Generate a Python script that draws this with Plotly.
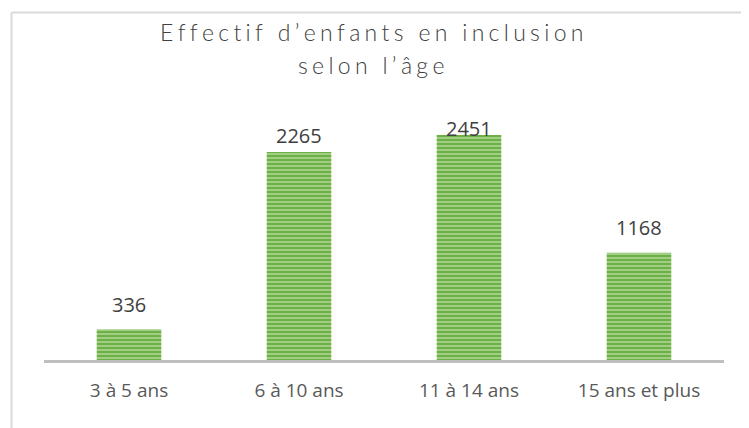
import plotly.graph_objects as go

categories = ["3 à 5 ans", "6 à 10 ans", "11 à 14 ans", "15 ans et plus"]
values = [336, 2265, 2451, 1168]
title_lines = ["Effectif d’enfants en inclusion", "selon l’âge"]

# pixel offsets of the value labels above the bar tops (as placed in the original)
label_shift = [9, 1, -9, 10]

def spaced(s):
    return "\u2009\u200a".join(list(s))

OFF = 8  # page body margin
W, H = 749 - OFF, 428 - OFF
L, R, T, B = 44 - OFF, 25, 100 - OFF, 68
pw, ph = W - L - R, H - T - B
ymax = 2832

fig = go.Figure()
fig.add_trace(go.Bar(
    x=categories, y=values, width=0.38,
    marker=dict(color="#74B84A", line=dict(width=0),
                pattern=dict(shape="-", fgcolor="#f2f9ec", bgcolor="#6DB043", size=4, solidity=0.4)),
    hoverinfo="skip",
))
for c, v, s in zip(categories, values, label_shift):
    fig.add_annotation(x=c, y=v, text=str(v), showarrow=False, yanchor="bottom", yshift=s,
                       font=dict(family="Open Sans, Liberation Sans", size=20, color="#404040"))

def px_x(p):
    return (p - OFF - L) / pw
def px_y(p):
    return (H + OFF - B - p) / ph

for line, yc in zip(title_lines, [32, 65]):
    fig.add_annotation(xref="paper", yref="paper", x=px_x(371), y=px_y(yc), xanchor="center", yanchor="middle",
                       text=spaced(line), showarrow=False,
                       font=dict(family="Lato", size=23, color="#404040", weight=300))

fig.add_shape(type="line", xref="paper", yref="paper", x0=px_x(11.5), x1=px_x(760), y0=px_y(12.5), y1=px_y(12.5),
              line=dict(color="#D9D9D9", width=2))
fig.add_shape(type="line", xref="paper", yref="paper", x0=px_x(11.5), x1=px_x(11.5), y0=px_y(12.5), y1=px_y(440),
              line=dict(color="#D9D9D9", width=2))

fig.update_layout(
    width=W, height=H, margin=dict(l=L, r=R, t=T, b=B),
    paper_bgcolor="white", plot_bgcolor="white", showlegend=False,
    xaxis=dict(showline=True, linecolor="#BFBFBF", linewidth=3, showgrid=False, ticks="",
               tickfont=dict(family="Open Sans, Liberation Sans", size=19, color="#595959"), ticklabelstandoff=11),
    yaxis=dict(range=[0, ymax], visible=False, showgrid=False),
    bargap=0.62,
)
fig.write_html("out.html")
